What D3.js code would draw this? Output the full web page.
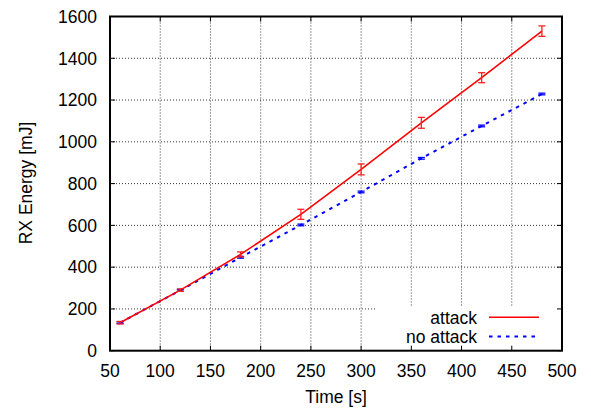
<!DOCTYPE html>
<html><head><meta charset="utf-8">
<script src="https://cdn.jsdelivr.net/npm/d3@7"></script>
<style>body{margin:0;background:#fff}svg{display:block}text{font-family:"Liberation Sans",Arial,sans-serif;fill:#000}</style>
</head><body><svg id="c" width="591" height="409"></svg>
<script>
const times = [60, 120, 180, 240, 300, 360, 420, 480];
const attack = [134, 290, 461, 653, 868, 1091, 1307, 1530];
const attackErr = [6, 6, 12, 24, 26, 26, 24, 25];
const noAttack = [134, 289, 447, 602, 760, 921, 1076, 1229];
const noAttackErr = [4, 4, 4, 4, 4, 4, 4, 4];
const xTicks = [50, 100, 150, 200, 250, 300, 350, 400, 450, 500];
const yTicks = [0, 200, 400, 600, 800, 1000, 1200, 1400, 1600];
const seriesNames = ["attack", "no attack"];

const svg = d3.select("#c");
const L = 110, R = 562, T = 16.5, B = 350.7;
const x = d3.scaleLinear().domain([50, 500]).range([L, R]);
const y = d3.scaleLinear().domain([0, 1600]).range([B, T]);
const fs = 17.5;

// grid
const g = svg.append("g");
g.selectAll(".gx").data(xTicks.slice(1, -1)).enter().append("line")
  .attr("x1", d => x(d)).attr("x2", d => x(d)).attr("y1", T).attr("y2", B)
  .attr("stroke", "#000").attr("stroke-width", 0.8).attr("stroke-dasharray", "1,2");
g.selectAll(".gy").data(yTicks.slice(1, -1)).enter().append("line")
  .attr("y1", d => y(d)).attr("y2", d => y(d)).attr("x1", L).attr("x2", R)
  .attr("stroke", "#000").attr("stroke-width", 0.8).attr("stroke-dasharray", "1,2");

// legend background (opaque)
svg.append("rect").attr("x", 375).attr("y", 307).attr("width", R - 375 - 1).attr("height", B - 307 - 1).attr("fill", "#fff");

// ticks (inside, mirrored)
const tl = 5;
xTicks.forEach(d => {
  svg.append("line").attr("x1", x(d)).attr("x2", x(d)).attr("y1", B).attr("y2", B - tl).attr("stroke", "#000");
  svg.append("line").attr("x1", x(d)).attr("x2", x(d)).attr("y1", T).attr("y2", T + tl).attr("stroke", "#000");
});
yTicks.forEach(d => {
  svg.append("line").attr("y1", y(d)).attr("y2", y(d)).attr("x1", L).attr("x2", L + tl).attr("stroke", "#000");
  svg.append("line").attr("y1", y(d)).attr("y2", y(d)).attr("x1", R).attr("x2", R - tl).attr("stroke", "#000");
});

// series
const line = d3.line().x((d, i) => x(times[i])).y(d => y(d));
svg.append("path").datum(noAttack).attr("d", line).attr("fill", "none")
  .attr("stroke", "#0000ff").attr("stroke-width", 2).attr("stroke-dasharray", "3.5,5");
svg.append("path").datum(attack).attr("d", line).attr("fill", "none")
  .attr("stroke", "#ff0000").attr("stroke-width", 1.6);

function errBars(vals, errs, color, w) {
  vals.forEach((v, i) => {
    const cx = x(times[i]), y1 = y(v - errs[i]), y2 = y(v + errs[i]);
    svg.append("line").attr("x1", cx).attr("x2", cx).attr("y1", y1).attr("y2", y2).attr("stroke", color).attr("stroke-width", 1.3);
    [y1, y2].forEach(yy => svg.append("line").attr("x1", cx - w).attr("x2", cx + w).attr("y1", yy).attr("y2", yy).attr("stroke", color).attr("stroke-width", 1.3));
  });
}
errBars(noAttack, noAttackErr, "#0000ff", 3.5);
errBars(attack, attackErr, "#ff2020", 3.5);

// frame
svg.append("rect").attr("x", L).attr("y", T).attr("width", R - L).attr("height", B - T)
  .attr("fill", "none").attr("stroke", "#000").attr("stroke-width", 2);

// tick labels
svg.selectAll(".xl").data(xTicks).enter().append("text")
  .attr("x", d => x(d)).attr("y", 377).attr("text-anchor", "middle").attr("font-size", fs).text(d => d);
svg.selectAll(".yl").data(yTicks).enter().append("text")
  .attr("x", 97).attr("y", d => y(d) + 6.3).attr("text-anchor", "end").attr("font-size", fs).text(d => d);

// axis titles
svg.append("text").attr("x", (L + R) / 2).attr("y", 403).attr("text-anchor", "middle").attr("font-size", fs).text("Time [s]");
svg.append("text").attr("transform", "translate(32,183) rotate(-90)").attr("text-anchor", "middle").attr("font-size", fs).text("RX Energy [mJ]");

// legend
const ly = [317.3, 336.5];
const colors = ["#ff0000", "#0000ff"];
seriesNames.forEach((n, i) => {
  svg.append("text").attr("x", 477).attr("y", ly[i] + 6.2).attr("text-anchor", "end").attr("font-size", fs).text(n);
  const ln = svg.append("line").attr("x1", 489).attr("x2", 539).attr("y1", ly[i]).attr("y2", ly[i]).attr("stroke", colors[i]);
  if (i === 0) ln.attr("stroke-width", 1.6); else ln.attr("stroke-width", 2).attr("stroke-dasharray", "3.5,5");
});
</script></body></html>
